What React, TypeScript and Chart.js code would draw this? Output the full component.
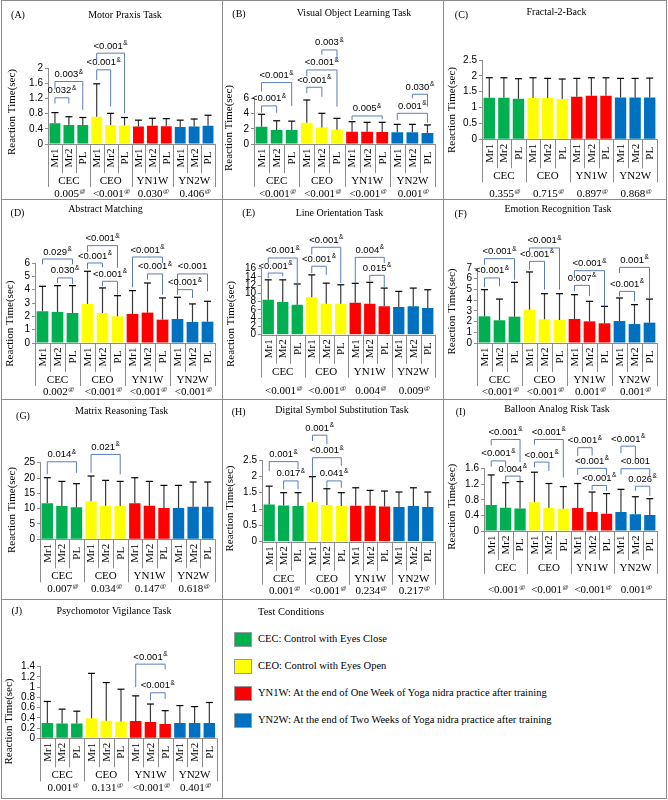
import React, { useEffect, useRef } from "react";
import { Chart, registerables } from "chart.js";
Chart.register(...registerables);

// ---------- shared categories ----------
const groups = ["CEC", "CEO", "YN1W", "YN2W"];
const sessions = ["Mr1", "Mr2", "PL"];
const groupColors = ["#00B050", "#FFFF00", "#FF0000", "#0070C0"];
const legendTexts = [
  "CEC: Control with Eyes Close",
  "CEO: Control with Eyes Open",
  "YN1W: At the end of One Week of Yoga nidra practice after training",
  "YN2W: At the end of Two Weeks of Yoga nidra practice after training",
];

// bracket: [fromBar, toBar, level, leftEnd, rightEnd, label] (values in data units)
type Bracket = [number, number, number, number, number, string];

// ---------- (A) Motor Praxis Task ----------
const aMeans = [0.55, 0.5, 0.5, 0.72, 0.5, 0.49, 0.46, 0.48, 0.47, 0.45, 0.46, 0.48];
const aSD = [0.28, 0.22, 0.2, 0.87, 0.31, 0.21, 0.17, 0.2, 0.2, 0.18, 0.2, 0.28];
const aTicks = [0, 0.4, 0.8, 1.2, 1.6, 2];
const aP = ["0.005@", "<0.001@", "0.030@", "0.406@"];
const aBr: Bracket[] = [
  [0, 1, 1.22, 1.07, 1.07, "0.032&"],
  [0, 2, 1.65, 1.44, 0.9, "0.003&"],
  [3, 4, 1.96, 1.69, 0.99, "<0.001&"],
  [3, 5, 2.4, 2.18, 0.81, "<0.001&"],
];

// ---------- (B) Visual Object Learning Task ----------
const bMeans = [2.28, 1.84, 1.84, 2.8, 2.15, 1.88, 1.62, 1.62, 1.58, 1.53, 1.53, 1.45];
const bSD = [1.62, 1.21, 1.16, 2.98, 1.88, 1.49, 1.31, 1.23, 1.27, 1.05, 1.05, 1.05];
const bTicks = [0, 2, 4, 6];
const bP = ["<0.001@", "<0.001@", "<0.001@", "0.001@"];
const bBr: Bracket[] = [
  [0, 1, 5.0, 4.1, 4.1, "<0.001&"],
  [0, 2, 8.06, 6.9, 5.0, "<0.001&"],
  [3, 4, 7.45, 6.66, 6.2, "<0.001&"],
  [3, 5, 9.72, 8.9, 4.9, "<0.001&"],
  [4, 5, 12.35, 11.7, 11.1, "0.003&"],
  [6, 8, 3.68, 3.15, 3.24, "0.005&"],
  [9, 11, 4.03, 3.15, 2.8, "0.001&"],
  [10, 11, 6.53, 6.0, 4.9, "0.030&"],
];

// ---------- (C) Fractal-2-Back ----------
const cMeans = [1.31, 1.31, 1.28, 1.3, 1.3, 1.27, 1.34, 1.37, 1.37, 1.32, 1.32, 1.32];
const cSD = [0.63, 0.63, 0.63, 0.64, 0.62, 0.63, 0.58, 0.57, 0.57, 0.6, 0.6, 0.61];
const cTicks = [0, 0.5, 1, 1.5, 2, 2.5];
const cP = ["0.355@", "0.715@", "0.897@", "0.868@"];
const cBr: Bracket[] = [];

// ---------- (D) Abstract Matching ----------
const dMeans = [2.38, 2.33, 2.25, 2.93, 2.25, 2.0, 2.18, 2.28, 1.75, 1.8, 1.58, 1.6];
const dSD = [1.87, 1.97, 2.05, 2.45, 1.88, 1.55, 1.75, 2.22, 1.63, 1.63, 1.35, 1.53];
const dTicks = [0, 1, 2, 3, 4, 5, 6];
const dP = ["0.002@", "<0.001@", "<0.001@", "<0.001@"];
const dBr: Bracket[] = [
  [0, 2, 6.3, 5.9, 5.9, "0.029&"],
  [1, 2, 4.88, 4.5, 4.43, "0.030&"],
  [3, 5, 7.3, 6.83, 5.63, "<0.001&"],
  [3, 4, 6.0, 5.55, 5.68, "<0.001&"],
  [4, 5, 4.63, 4.25, 3.63, "<0.001&"],
  [6, 8, 6.45, 4.18, 6.0, "<0.001&"],
  [7, 8, 5.18, 4.75, 3.63, "<0.001&"],
  [9, 11, 5.18, 3.63, 3.88, "<0.001"],
  [9, 10, 4.0, 3.63, 3.38, "<0.001&"],
];

// ---------- (E) Line Orientation Task ----------
const eMeans = [8.48, 7.92, 7.27, 9.05, 7.5, 7.5, 7.75, 7.5, 6.87, 6.7, 6.87, 6.46];
const eSD = [4.82, 5.38, 5.03, 5.45, 5.0, 4.6, 4.7, 5.2, 4.43, 3.8, 4.43, 4.44];
const eTicks = [0, 2, 4, 6, 8, 10, 12, 14, 16];
const eP = ["<0.001@", "<0.001@", "0.004@", "0.009@"];
const eBr: Bracket[] = [
  [0, 1, 14.95, 13.7, 14.1, "<0.001&"],
  [0, 2, 18.6, 17.4, 12.1, "<0.001&"],
  [3, 4, 16.6, 14.95, 14.5, "<0.001&"],
  [3, 5, 21.2, 19.4, 12.5, "<0.001&"],
  [6, 8, 18.75, 12.5, 17.4, "0.004&"],
  [7, 8, 14.4, 12.9, 11.3, "0.015&"],
];

// ---------- (F) Emotion Recognition Task ----------
const fMeans = [2.49, 2.12, 2.46, 3.11, 2.21, 2.15, 2.24, 2.02, 1.84, 2.05, 1.77, 1.9];
const fSD = [2.49, 1.98, 3.2, 3.52, 2.39, 2.45, 2.27, 1.87, 1.58, 2.15, 1.81, 2.2];
const fTicks = [0, 1, 2, 3, 4, 5, 6, 7];
const fP = ["<0.001@", "<0.001@", "0.001@", "0.001@"];
const fBr: Bracket[] = [
  [0, 1, 6.07, 5.2, 5.29, "<0.001&"],
  [0, 2, 7.87, 7.3, 5.9, "<0.001&"],
  [3, 4, 7.62, 6.84, 4.98, "<0.001&"],
  [3, 5, 8.87, 8.4, 4.98, "<0.001&"],
  [6, 8, 6.75, 6.07, 3.42, "<0.001&"],
  [6, 7, 5.38, 4.82, 4.36, "0.007&"],
  [9, 11, 7.06, 6.53, 4.2, "0.001&"],
  [9, 10, 4.82, 4.36, 3.89, "<0.001&"],
];

// ---------- (G) Matrix Reasoning Task ----------
const gMeans = [11.74, 10.87, 10.43, 12.39, 10.98, 10.87, 11.74, 10.98, 10.2, 10.2, 10.65, 10.65];
const gSD = [8.36, 8.03, 7.72, 8.26, 8.26, 8.03, 8.36, 7.92, 7.4, 7.4, 8.05, 8.05];
const gTicks = [0, 5, 10, 15, 20, 25];
const gP = ["0.007@", "0.034@", "0.147@", "0.618@"];
const gBr: Bracket[] = [
  [0, 2, 25.3, 21.2, 21.7, "0.014&"],
  [3, 5, 27.7, 21.7, 21.2, "0.021&"],
];

// ---------- (H) Digital Symbol Substitution Task ----------
const hMeans = [1.14, 1.11, 1.09, 1.21, 1.12, 1.09, 1.1, 1.1, 1.08, 1.06, 1.09, 1.06];
const hSD = [0.56, 0.39, 0.41, 0.78, 0.5, 0.41, 0.55, 0.47, 0.47, 0.46, 0.56, 0.46];
const hTicks = [0, 0.5, 1, 1.5, 2, 2.5];
const hP = ["0.001@", "<0.001@", "0.234@", "0.217@"];
const hBr: Bracket[] = [
  [0, 2, 2.45, 2.16, 2.21, "0.001&"],
  [1, 2, 1.86, 1.6, 1.6, "0.017&"],
  [3, 4, 3.26, 3.08, 2.98, "0.001&"],
  [3, 5, 2.57, 2.0, 2.32, "<0.001&"],
  [4, 5, 1.86, 1.65, 1.65, "0.041&"],
];

// ---------- (I) Balloon Analog Risk Task ----------
const iMeans = [0.67, 0.6, 0.58, 0.74, 0.6, 0.57, 0.59, 0.49, 0.44, 0.49, 0.43, 0.41];
const iSD = [0.77, 0.64, 0.69, 0.77, 0.62, 0.57, 0.63, 0.51, 0.52, 0.58, 0.45, 0.42];
const iTicks = [0, 0.4, 0.8, 1.2, 1.6];
const iP = ["<0.001@", "<0.001@", "<0.001@", "0.001@"];
const iBr: Bracket[] = [
  [0, 2, 2.35, 2.2, 1.77, "<0.001&"],
  [0, 1, 1.8, 1.65, 1.63, "<0.001&"],
  [1, 2, 1.41, 1.28, 1.28, "0.004&"],
  [3, 5, 2.35, 2.22, 1.37, "<0.001&"],
  [3, 4, 1.77, 1.63, 1.54, "<0.001&"],
  [6, 7, 2.14, 1.92, 1.94, "<0.001&"],
  [6, 8, 1.61, 1.44, 1.44, "<0.001&"],
  [7, 8, 1.17, 1.05, 1.03, "<0.001&"],
  [9, 10, 2.18, 2.0, 1.86, "<0.001&"],
  [9, 11, 1.6, 1.45, 1.41, "<0.001"],
  [10, 11, 1.15, 1.03, 0.9, "0.026&"],
];

// ---------- (J) Psychomotor Vigilance Task ----------
const jMeans = [0.3, 0.29, 0.29, 0.39, 0.345, 0.33, 0.34, 0.32, 0.28, 0.3, 0.3, 0.3];
const jSD = [0.42, 0.28, 0.24, 0.88, 0.745, 0.63, 0.49, 0.35, 0.26, 0.34, 0.32, 0.4];
const jTicks = [0, 0.2, 0.4, 0.6, 0.8, 1, 1.2, 1.4];
const jP = ["0.001@", "0.131@", "<0.001@", "0.401@"];
const jBr: Bracket[] = [
  [6, 8, 1.45, 1.0, 1.35, "<0.001&"],
  [7, 8, 0.89, 0.74, 0.77, "<0.001&"],
];

// ---------- layout (pixels, local to each cell) ----------
interface PanelCfg {
  tag: string; title: string;
  means: number[]; sds: number[]; ticks: number[]; pvals: string[]; brackets: Bracket[];
  x: number; y: number;
  axisX: number; right: number; top: number; bottom: number;
  titleX: number; titleY: number; tagX: number; tagY: number;
  yTitleX: number; yTitleY: number; pY: number;
}

const panels: PanelCfg[] = [
  { tag: "(A)", title: "Motor Praxis Task", means: aMeans, sds: aSD, ticks: aTicks, pvals: aP, brackets: aBr,
    x: 0, y: 0, axisX: 48, right: 215, top: 68.3, bottom: 144, titleX: 125, titleY: 15, tagX: 18, tagY: 15, yTitleX: 12, yTitleY: 112, pY: 193 },
  { tag: "(B)", title: "Visual Object Learning Task", means: bMeans, sds: bSD, ticks: bTicks, pvals: bP, brackets: bBr,
    x: 222, y: 0, axisX: 32, right: 213, top: 98.3, bottom: 144, titleX: 132, titleY: 13, tagX: 17, tagY: 14, yTitleX: 7, yTitleY: 128, pY: 193 },
  { tag: "(C)", title: "Fractal-2-Back", means: cMeans, sds: cSD, ticks: cTicks, pvals: cP, brackets: cBr,
    x: 443, y: 0, axisX: 39, right: 214, top: 60, bottom: 139.3, titleX: 113.5, titleY: 12, tagX: 18.5, tagY: 15, yTitleX: 9.3, yTitleY: 110, pY: 193 },
  { tag: "(D)", title: "Abstract Matching", means: dMeans, sds: dSD, ticks: dTicks, pvals: dP, brackets: dBr,
    x: 0, y: 199, axisX: 35, right: 215, top: 64, bottom: 144, titleX: 105.5, titleY: 10.7, tagX: 17.5, tagY: 14, yTitleX: 10, yTitleY: 124.7, pY: 192 },
  { tag: "(E)", title: "Line Orientation Task", means: eMeans, sds: eSD, ticks: eTicks, pvals: eP, brackets: eBr,
    x: 222, y: 199, axisX: 39, right: 213, top: 69.7, bottom: 135.7, titleX: 117.5, titleY: 14, tagX: 26.7, tagY: 14, yTitleX: 9, yTitleY: 125, pY: 191 },
  { tag: "(F)", title: "Emotion Recognition Task", means: fMeans, sds: fSD, ticks: fTicks, pvals: fP, brackets: fBr,
    x: 443, y: 199, axisX: 34, right: 214, top: 69, bottom: 144, titleX: 115, titleY: 10.7, tagX: 17.7, tagY: 15, yTitleX: 9, yTitleY: 112.5, pY: 192 },
  { tag: "(G)", title: "Matrix Reasoning Task", means: gMeans, sds: gSD, ticks: gTicks, pvals: gP, brackets: gBr,
    x: 0, y: 399, axisX: 40, right: 215, top: 63.7, bottom: 140.3, titleX: 121.7, titleY: 12, tagX: 23, tagY: 17.7, yTitleX: 12, yTitleY: 111, pY: 189 },
  { tag: "(H)", title: "Digital Symbol Substitution Task", means: hMeans, sds: hSD, ticks: hTicks, pvals: hP, brackets: hBr,
    x: 222, y: 399, axisX: 40, right: 213, top: 61, bottom: 142.7, titleX: 120, titleY: 11, tagX: 16.7, tagY: 13, yTitleX: 8, yTitleY: 109.5, pY: 191 },
  { tag: "(I)", title: "Balloon Analog Risk Task", means: iMeans, sds: iSD, ticks: iTicks, pvals: iP, brackets: iBr,
    x: 443, y: 399, axisX: 41, right: 214, top: 69.7, bottom: 132, titleX: 114, titleY: 10.3, tagX: 17.7, tagY: 13.7, yTitleX: 9, yTitleY: 107.8, pY: 190 },
  { tag: "(J)", title: "Psychomotor Vigilance Task", means: jMeans, sds: jSD, ticks: jTicks, pvals: jP, brackets: jBr,
    x: 0, y: 599, axisX: 40, right: 216.7, top: 67.7, bottom: 139.3, titleX: 114, titleY: 12.3, tagX: 16.7, tagY: 12.3, yTitleX: 9, yTitleY: 122.5, pY: 188 },
];

const CW = 224;
const CH = 200;
const SERIF = "'Liberation Serif', 'Times New Roman', serif";
const SANS = "'Liberation Sans', Arial, sans-serif";
const AXIS_COLOR = "#8c8c8c";
const BRACKET_COLOR = "#5a7dba";
const Y_AXIS_W = 30;

function drawSupText(
  ctx: CanvasRenderingContext2D, text: string, cx: number, baseY: number,
  font: string, supFont: string, rise: number
) {
  const m = text.match(/^(.*?)([&@])$/);
  const main = m ? m[1] : text;
  const sup = m ? m[2] : "";
  ctx.font = font;
  const w1 = ctx.measureText(main).width;
  ctx.font = supFont;
  const w2 = sup ? ctx.measureText(sup).width + 0.5 : 0;
  const start = cx - (w1 + w2) / 2;
  ctx.textAlign = "left";
  ctx.textBaseline = "alphabetic";
  ctx.font = font;
  ctx.fillText(main, start, baseY);
  if (sup) {
    ctx.font = supFont;
    ctx.fillText(sup, start + w1 + 0.5, baseY - rise);
  }
}

function makePlugin(cfg: PanelCfg) {
  return {
    id: "panelDecor" + cfg.tag,
    afterDatasetsDraw(chart: any) {
      const ctx: CanvasRenderingContext2D = chart.ctx;
      const xs = chart.scales.x;
      const ys = chart.scales.y;
      ctx.save();
      // error bars (positive only)
      cfg.means.forEach((m, i) => {
        const x = xs.getPixelForValue(i);
        const y0 = ys.getPixelForValue(m);
        const y1 = ys.getPixelForValue(m + cfg.sds[i]);
        ctx.strokeStyle = "#3a3a3a";
        ctx.lineWidth = 1.2;
        ctx.beginPath();
        ctx.moveTo(x, y0);
        ctx.lineTo(x, y1);
        ctx.stroke();
        ctx.strokeStyle = "#000";
        ctx.lineWidth = 1.2;
        ctx.beginPath();
        ctx.moveTo(x - 3.5, y1);
        ctx.lineTo(x + 3.5, y1);
        ctx.stroke();
      });
      ctx.restore();
    },
    afterDraw(chart: any) {
      const ctx: CanvasRenderingContext2D = chart.ctx;
      const xs = chart.scales.x;
      const ys = chart.scales.y;
      const { left, right, bottom } = chart.chartArea;
      const n = cfg.means.length;
      const cat = (right - left) / n;
      ctx.save();
      ctx.fillStyle = "#000";

      // x baseline & category separators
      ctx.strokeStyle = AXIS_COLOR;
      ctx.lineWidth = 1;
      ctx.beginPath();
      ctx.moveTo(left, Math.round(bottom) + 0.5);
      ctx.lineTo(right, Math.round(bottom) + 0.5);
      for (let k = 0; k <= n; k++) {
        const x = Math.round(left + k * cat) + 0.5;
        const len = k % sessions.length === 0 ? 43 : 29;
        ctx.moveTo(x, bottom);
        ctx.lineTo(x, bottom + len);
      }
      ctx.stroke();

      // rotated session labels
      ctx.font = `11px ${SERIF}`;
      ctx.textAlign = "center";
      ctx.textBaseline = "middle";
      for (let i = 0; i < n; i++) {
        const x = xs.getPixelForValue(i);
        ctx.save();
        ctx.translate(x + 0.5, bottom + 14);
        ctx.rotate(-Math.PI / 2);
        ctx.fillText(sessions[i % sessions.length], 0, 0);
        ctx.restore();
      }

      // group labels & p-values
      groups.forEach((g, gi) => {
        const gx = left + (gi * 3 + 1.5) * cat;
        ctx.font = `11px ${SERIF}`;
        ctx.textAlign = "center";
        ctx.textBaseline = "middle";
        ctx.fillText(g, gx, bottom + 37);
        drawSupText(ctx, cfg.pvals[gi], gx + 1, cfg.pY + 3.8, `11px ${SERIF}`, `6.5px ${SERIF}`, 3.5);
      });

      // significance brackets
      cfg.brackets.forEach(([a, b, lvl, le, re, label]) => {
        const x1 = xs.getPixelForValue(a);
        const x2 = xs.getPixelForValue(b);
        const y = ys.getPixelForValue(lvl);
        ctx.strokeStyle = BRACKET_COLOR;
        ctx.lineWidth = 1;
        ctx.beginPath();
        ctx.moveTo(x1, ys.getPixelForValue(le));
        ctx.lineTo(x1, y);
        ctx.lineTo(x2, y);
        ctx.lineTo(x2, ys.getPixelForValue(re));
        ctx.stroke();
        ctx.fillStyle = "#000";
        drawSupText(ctx, label, (x1 + x2) / 2, y - 4.5, `9.5px ${SANS}`, `6.5px ${SANS}`, 3.5);
      });

      // titles
      ctx.fillStyle = "#000";
      ctx.textAlign = "center";
      ctx.textBaseline = "middle";
      ctx.font = `10px ${SERIF}`;
      ctx.fillText(cfg.title, cfg.titleX, cfg.titleY);
      ctx.fillText(cfg.tag, cfg.tagX, cfg.tagY);

      // y-axis title
      ctx.save();
      ctx.translate(cfg.yTitleX, cfg.yTitleY);
      ctx.rotate(-Math.PI / 2);
      ctx.font = `11px ${SERIF}`;
      ctx.fillText("Reaction Time(sec)", 0, 0);
      ctx.restore();

      ctx.restore();
    },
  };
}

function Panel({ cfg }: { cfg: PanelCfg }) {
  const ref = useRef<HTMLCanvasElement>(null);
  useEffect(() => {
    const canvas = ref.current!;
    const labels = cfg.means.map((_, i) => `${groups[Math.floor(i / 3)]} ${sessions[i % 3]}`);
    const ticks = cfg.ticks;
    const chart = new Chart(canvas, {
      type: "bar",
      data: {
        labels,
        datasets: [
          {
            data: cfg.means,
            backgroundColor: cfg.means.map((_, i) => groupColors[Math.floor(i / 3)]),
            borderWidth: 0,
            barPercentage: 0.78,
            categoryPercentage: 1,
          },
        ],
      },
      options: {
        responsive: false,
        animation: false,
        devicePixelRatio: 1,
        layout: {
          padding: {
            left: cfg.axisX - Y_AXIS_W,
            right: CW - cfg.right,
            top: cfg.top,
            bottom: CH - cfg.bottom,
          },
        },
        plugins: {
          legend: { display: false },
          tooltip: { enabled: false },
          title: { display: false },
        },
        scales: {
          x: { display: false },
          y: {
            min: ticks[0],
            max: ticks[ticks.length - 1],
            afterBuildTicks: (s: any) => {
              s.ticks = ticks.map((v) => ({ value: v }));
            },
            afterFit: (s: any) => {
              s.width = Y_AXIS_W;
            },
            ticks: {
              color: "#000",
              padding: 2,
              autoSkip: false,
              font: { family: SANS, size: 10 },
              callback: (v: any) => String(Number(Number(v).toFixed(2))),
            },
            grid: {
              display: true,
              drawOnChartArea: false,
              drawTicks: true,
              tickLength: 3,
              color: AXIS_COLOR,
            },
            border: { display: true, color: AXIS_COLOR },
          },
        },
      } as any,
      plugins: [makePlugin(cfg)],
    });
    return () => chart.destroy();
  }, [cfg]);
  return (
    <canvas
      ref={ref}
      width={CW}
      height={CH}
      style={{ position: "absolute", left: cfg.x, top: cfg.y, width: CW, height: CH }}
    />
  );
}

function Line({ x, y, w, h }: { x: number; y: number; w: number; h: number }) {
  return <div style={{ position: "absolute", left: x, top: y, width: w, height: h, background: "#8a8a8a" }} />;
}

export default function App() {
  return (
    <div
      style={{
        position: "absolute",
        left: 0,
        top: 0,
        width: 668,
        height: 800,
        background: "#fff",
        overflow: "hidden",
        fontFamily: SERIF,
      }}
    >
      {panels.map((p) => (
        <Panel key={p.tag} cfg={p} />
      ))}
      {/* frame */}
      <Line x={1} y={0} w={666} h={1} />
      <Line x={1} y={0} w={1} h={799} />
      <Line x={666} y={0} w={1} h={799} />
      <Line x={1} y={798} w={666} h={1} />
      <Line x={1} y={199} w={666} h={1} />
      <Line x={1} y={399} w={666} h={1} />
      <Line x={1} y={599} w={666} h={1} />
      <Line x={222} y={0} w={1} h={799} />
      <Line x={443} y={0} w={1} h={599} />
      {/* legend */}
      <div style={{ position: "absolute", left: 258, top: 604, fontSize: 10.5, lineHeight: "16px", color: "#000" }}>
        Test Conditions
      </div>
      {legendTexts.map((t, i) => (
        <React.Fragment key={t}>
          <div
            style={{
              position: "absolute",
              left: 234,
              top: 632 + i * 27,
              width: 16,
              height: 13,
              background: groupColors[i],
              border: "1px solid #9a9a9a",
            }}
          />
          <div
            style={{
              position: "absolute",
              left: 258,
              top: 631 + i * 27,
              fontSize: 10.5,
              lineHeight: "16px",
              color: "#000",
              whiteSpace: "nowrap",
            }}
          >
            {t}
          </div>
        </React.Fragment>
      ))}
    </div>
  );
}
